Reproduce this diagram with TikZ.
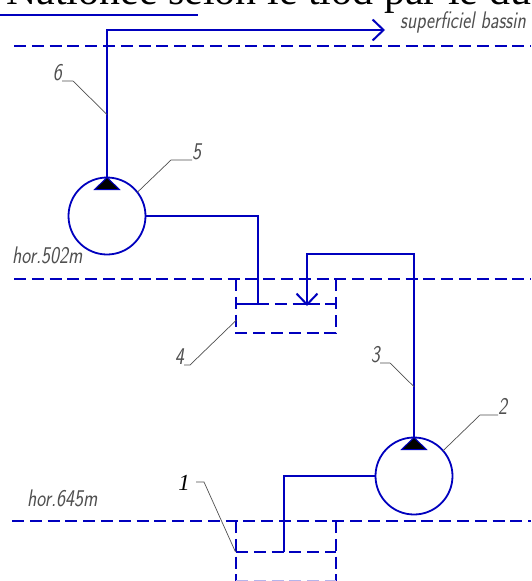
\documentclass[tikz,border=0pt]{standalone}
\usepackage{fontspec}
\setmainfont{Liberation Serif}
\usepackage{xcolor}
\usetikzlibrary{
    arrows.meta,
    positioning
}
\definecolor{pipeblue}{RGB}{0,0,190}
\definecolor{faintblue}{RGB}{180,180,235}
\definecolor{leadgray}{RGB}{80,80,80}

\begin{document}
\begin{tikzpicture}[
    x=1pt,
    y=-1pt,
    pipe/.style={
        draw=pipeblue,
        line width=2pt
    },
    arrow/.style={
        pipe,
        -{Straight Barb[length=11pt,width=21pt]}
    },
    level/.style={
        draw=pipeblue,
        line width=2pt,
        dash pattern=on 12pt off 5.8pt
    },
    pump/.style={
        circle,
        draw=pipeblue,
        line width=1.8pt,
        minimum size=77pt,
        inner sep=0pt,
        outer sep=0pt
    },
    tank/.style={
        minimum width=100pt,
        inner sep=0pt,
        outer sep=0pt
    },
    mark tip/.style={
        draw=pipeblue,
        fill=black,
        line width=1pt
    },
    leader/.style={
        draw=leadgray,
        line width=0.7pt
    },
    draft/.style={
        font=\sffamily\itshape\fontsize{24}{24}\selectfont,
        text=leadgray,
        inner sep=0pt,
        xscale=0.8
    }
]
\useasboundingbox (0,0) rectangle (531,581);
\clip (0,0) rectangle (531,581);

\node[anchor=base west, inner sep=0pt, font=\fontsize{42}{42}\selectfont] (title) at (6,4)
    {Nationée selon le tiod par le du};
\coordinate (rulea) at (0,15);
\coordinate (ruleb) at (198,15);
\draw[pipe] (rulea) -- (ruleb);

\coordinate (top) at (107,30);
\coordinate (out) at (385,30);

\node[pump] (pumpb) at (107,216) {};
\node[pump] (pumpa) at (414,476) {};

\node[tank, minimum height=54pt] (tankb) at (286,306) {};
\node[tank, minimum height=60pt] (tanka) at (286,551) {};

\coordinate (inb) at (258,304);
\coordinate (outb) at (307,306);
\coordinate (cornerb) at (307,254);
\coordinate (ina) at (284,552);

\draw[level] (14,46) coordinate (basin) -- (531,46);
\draw[level] (14,279) coordinate (horb) -- (531,279);
\draw[level] (12,521) coordinate (hora) -- (531,521);

\draw[level] (tankb.north west) |- (tankb.south east) -- (tankb.north east);
\draw[level, dash pattern=on 33pt off 5.8pt on 12pt off 5.8pt on 27pt off 5.8pt on 12pt off 5.8pt] (236,304) -- (336,304);
\draw[level] (tanka.north west) -- (tanka.south west);
\draw[level] (tanka.north east) -- (tanka.south east);
\draw[level, draw=faintblue] (tanka.south west) -- (tanka.south east);
\draw[level] (236,552) -- (336,552);

\draw[arrow] (pumpb.north) -- (top) -- (out);
\draw[pipe] (pumpb.east) -| (inb);
\draw[arrow] (pumpa.north) |- (cornerb) -- (outb);
\draw[pipe] (pumpa.west) -| (ina);

\draw[mark tip] (pumpb.north) -- ++(-12.5,12) -- ++(25,0) -- cycle;
\draw[mark tip] (pumpa.north) -- ++(-12.5,12) -- ++(25,0) -- cycle;

\node[draft, anchor=west] (lbasin) at (400,22) {superficiel bassin};
\node[draft, anchor=west] (lhorb) at (12,255) {hor.502m};
\node[draft, anchor=west] (lhora) at (27,498) {hor.645m};

\node[draft, anchor=south east] (nsix) at (62,81) {6};
\node[draft, anchor=south west] (nfive) at (192,160) {5};
\node[draft, anchor=south east] (nfour) at (184,365) {4};
\node[draft, anchor=south east] (nthree) at (380,363) {3};
\node[draft, anchor=south west] (ntwo) at (498,415) {2};
\node[anchor=east, inner sep=0pt, font=\itshape\fontsize{23}{23}\selectfont] (none) at (190,483) {1};

\coordinate (pipesix) at (107,114.5);
\coordinate (pipethree) at (414,386.7);
\coordinate (edgefour) at (236.5,320);
\coordinate (edgeone) at (235.5,552);

\draw[leader] (nsix.south east) -- ++(11,0) -- (pipesix);
\draw[leader] (nfive.south west) -- ++(-21,0) -- (pumpb.38);
\draw[leader] (nfour.south east) -- ++(6,0) -- (edgefour);
\draw[leader] (nthree.south east) -- ++(10,0) -- (pipethree);
\draw[leader] (ntwo.south west) -- ++(-18,0) -- (pumpa.41);
\draw[leader] (none.east) ++(6,-1) -- ++(8,0) -- (edgeone);

\end{tikzpicture}
\end{document}
